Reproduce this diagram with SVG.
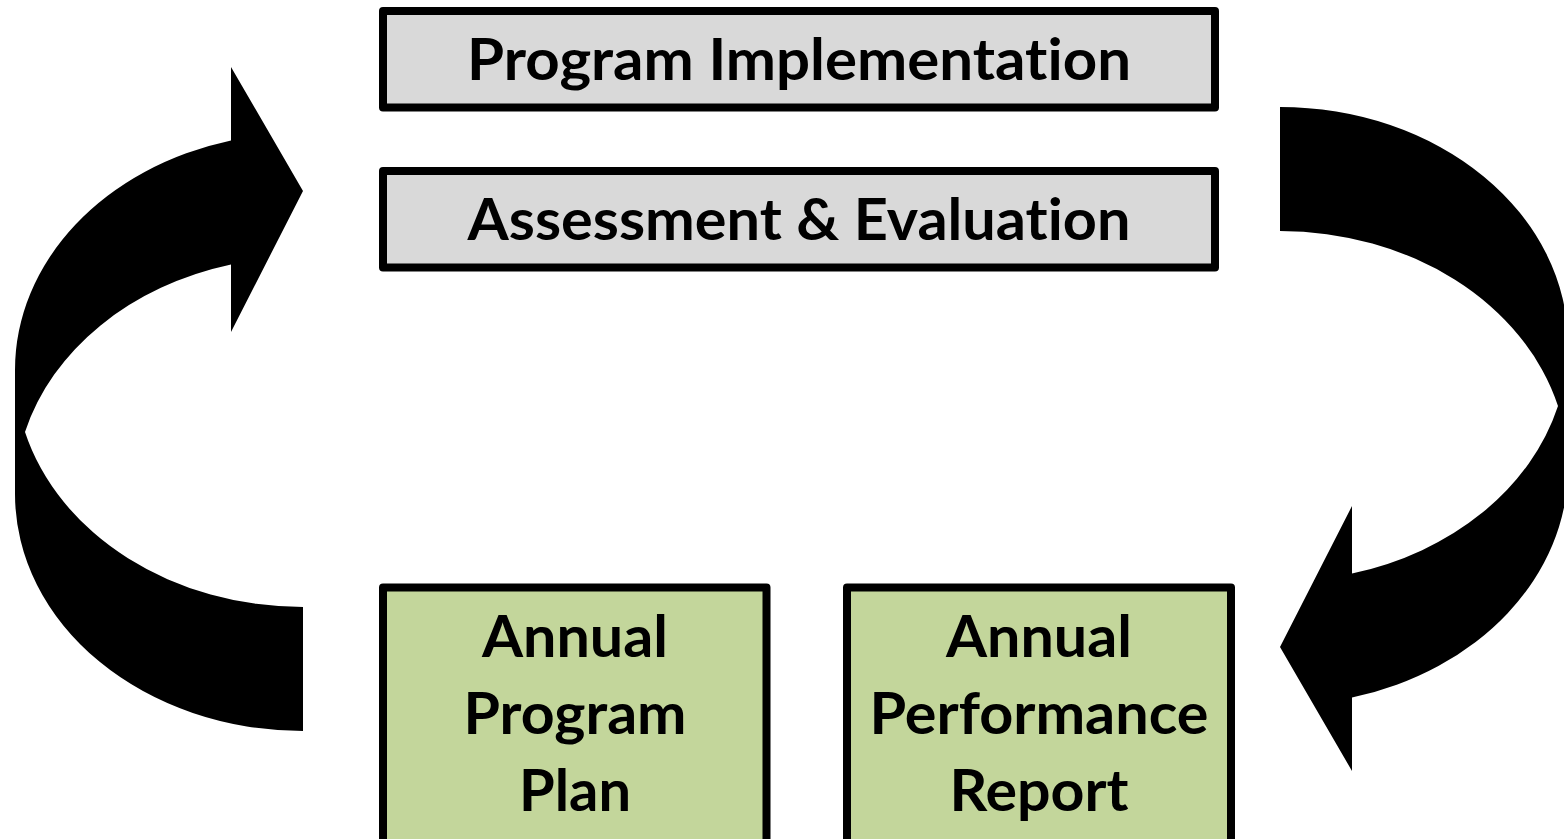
<svg xmlns="http://www.w3.org/2000/svg" width="1564" height="839" viewBox="0 0 1564 839">
<style>
.box{stroke:#000;stroke-width:8;stroke-linejoin:round}
.gray{fill:#D9D9D9}
.green{fill:#C3D69B}
.lbl{font-family:Lato,"Open Sans","Liberation Sans",sans-serif;font-weight:700;font-size:58px;fill:#000;text-anchor:middle;font-variant-ligatures:none;font-feature-settings:"liga" 0,"clig" 0}
.arrow{fill:#000}
</style>
<rect width="1564" height="839" fill="#fff"/>
<g id="connectors">
<path id="arrow-left" class="arrow" d="M 303 731 A 288 237 0 0 1 15 494 L 15 370 A 288 237 0 0 1 231 140.5 L 231 67 L 303 191 L 231 332 L 231 264.5 A 288 237 0 0 0 25 432 A 288 237 0 0 0 303 607 Z"/>
<path id="arrow-right" class="arrow" transform="rotate(180 791.5 419)" d="M 303 731 A 288 237 0 0 1 15 494 L 15 370 A 288 237 0 0 1 231 140.5 L 231 67 L 303 191 L 231 332 L 231 264.5 A 288 237 0 0 0 25 432 A 288 237 0 0 0 303 607 Z"/>
</g>
<g id="program-implementation">
<rect class="box gray" x="383" y="11" width="832" height="96.5"/>
<text class="lbl" x="799" y="80" textLength="664" lengthAdjust="spacingAndGlyphs">Program Implementation</text>
</g>
<g id="assessment-evaluation">
<rect class="box gray" x="383" y="171" width="832" height="96.5"/>
<text class="lbl" x="799" y="240" textLength="663" lengthAdjust="spacingAndGlyphs">Assessment &amp; Evaluation</text>
</g>
<g id="annual-program-plan">
<rect class="box green" x="383" y="587.5" width="383.5" height="256"/>
<text class="lbl" x="575" y="657" textLength="186" lengthAdjust="spacingAndGlyphs">Annual</text>
<text class="lbl" x="575" y="734" textLength="223" lengthAdjust="spacingAndGlyphs">Program</text>
<text class="lbl" x="575" y="811" textLength="112" lengthAdjust="spacingAndGlyphs">Plan</text>
</g>
<g id="annual-performance-report">
<rect class="box green" x="847" y="587.5" width="384" height="256"/>
<text class="lbl" x="1039" y="657" textLength="186" lengthAdjust="spacingAndGlyphs">Annual</text>
<text class="lbl" x="1039" y="734" textLength="339" lengthAdjust="spacingAndGlyphs">Performance</text>
<text class="lbl" x="1039" y="811" textLength="179" lengthAdjust="spacingAndGlyphs">Report</text>
</g>
</svg>
